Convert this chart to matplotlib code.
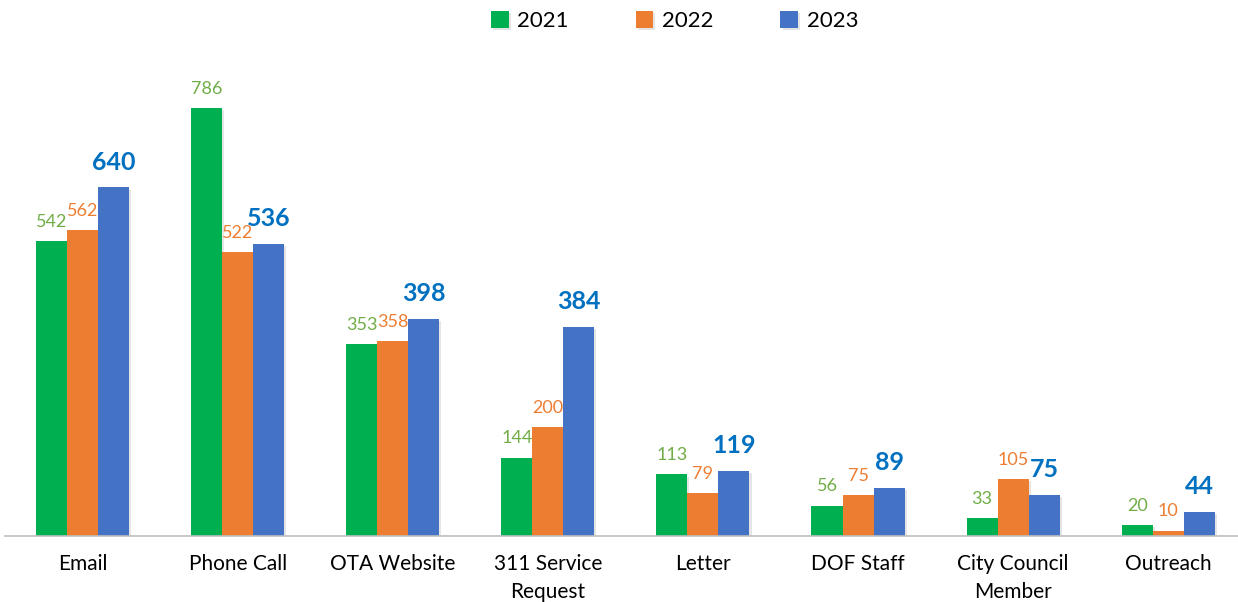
import numpy as np
import matplotlib
matplotlib.use("Agg")
import matplotlib.pyplot as plt
import matplotlib.patheffects as pe

plt.rcParams['font.family'] = ['Lato', 'DejaVu Sans']

categories = ["Email", "Phone Call", "OTA Website", "311 Service\nRequest",
              "Letter", "DOF Staff", "City Council\nMember", "Outreach"]
years = ["2021", "2022", "2023"]
v2021 = [542, 786, 353, 144, 113, 56, 33, 20]
v2022 = [562, 522, 358, 200, 79, 75, 105, 10]
v2023 = [640, 536, 398, 384, 119, 89, 75, 44]

bar_colors = ["#00B050", "#ED7D31", "#4472C4"]
label_colors = ["#70AD47", "#ED7D31", "#0070C0"]

fig = plt.figure(figsize=(12.38, 6.02), dpi=100)
ax = fig.add_axes([5 / 1238, 66 / 602, 1 - 5 / 1238, 476 / 602])

x = np.arange(len(categories))
w = 0.2
shadow = [pe.SimplePatchShadow(offset=(1.5, -1.5), alpha=0.25, shadow_rgbFace="#999999"), pe.Normal()]

for i, (yr, vals) in enumerate(zip(years, [v2021, v2022, v2023])):
    bars = ax.bar(x + (i - 1) * w, vals, w, color=bar_colors[i], label=yr, zorder=2)
    for b in bars:
        b.set_path_effects(shadow)
    if i == 2:
        ax.bar_label(bars, padding=10, color=label_colors[i], fontsize=18, fontweight="bold")
    else:
        ax.bar_label(bars, padding=8, color=label_colors[i], fontsize=13)

ax.set_xlim(-0.5, 7.45)
ax.set_ylim(0, 874)
ax.set_xticks(x)
ax.set_xticklabels(categories, fontsize=15, linespacing=1.5)
ax.tick_params(axis="x", length=0, pad=13)
ax.set_yticks([])
for s in ["top", "right", "left"]:
    ax.spines[s].set_visible(False)
ax.spines["bottom"].set_color("#BFBFBF")
ax.spines["bottom"].set_linewidth(1.2)

fig.legend(loc="upper center", bbox_to_anchor=(0.545, 1.015), ncol=3, frameon=False,
           fontsize=16, handlelength=0.8, handleheight=0.8, columnspacing=3.0, handletextpad=0.4)

fig.savefig("out.png", dpi=100)
